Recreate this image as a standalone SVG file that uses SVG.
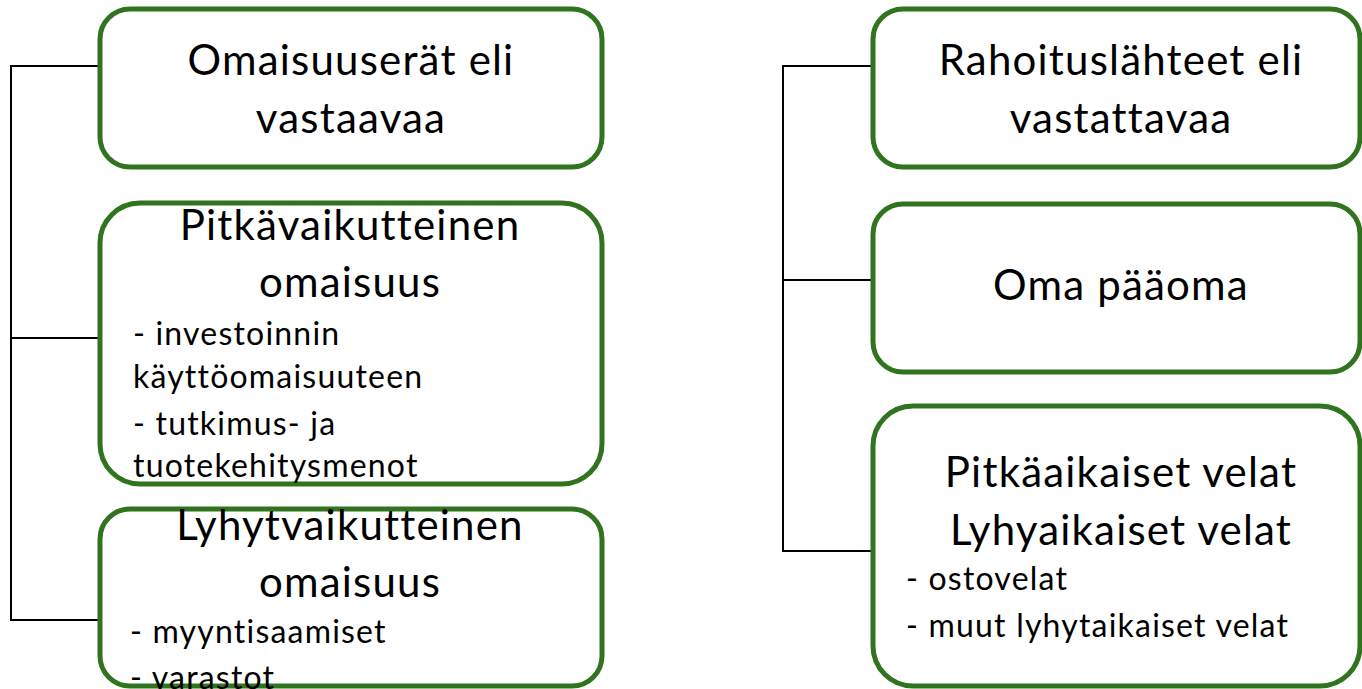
<svg xmlns="http://www.w3.org/2000/svg" width="1362" height="689" viewBox="0 0 1362 689">
<style>
.box{fill:#fff;stroke:#31741f;stroke-width:5}
.c{fill:none;stroke:#000;stroke-width:2}
.t{font-family:Lato,"Liberation Sans",sans-serif;font-size:42px;letter-spacing:1.2px;fill:#000;text-anchor:middle}
.s{font-family:Lato,"Liberation Sans",sans-serif;font-size:32px;letter-spacing:1.2px;fill:#000}
</style>
<rect width="1362" height="689" fill="#fff"/>
<g id="connectors">
<path class="c" d="M100 66H11V620H100M11 338H100"/>
<path class="c" d="M873 66H783V551H873M783 280H873"/>
</g>
<g id="n1"><rect class="box" x="100" y="9" width="502" height="158" rx="30"/>
<text class="t" x="351" y="75">Omaisuuserät eli</text><text class="t" x="351" y="133">vastaavaa</text></g>
<g id="n2"><rect class="box" x="100" y="203" width="502" height="281" rx="40"/>
<text class="t" x="350" y="240">Pitkävaikutteinen</text><text class="t" x="350" y="297">omaisuus</text>
<text class="s" x="133" y="345">- investoinnin</text><text class="s" x="133" y="388">käyttöomaisuuteen</text>
<text class="s" x="133" y="435">- tutkimus- ja</text><text class="s" x="133" y="477">tuotekehitysmenot</text></g>
<g id="n3"><rect class="box" x="100" y="509" width="502" height="177" rx="30"/>
<text class="t" x="350" y="540">Lyhytvaikutteinen</text><text class="t" x="350" y="597">omaisuus</text>
<text class="s" x="130" y="643">- myyntisaamiset</text><text class="s" x="130" y="689">- varastot</text></g>
<g id="n4"><rect class="box" x="873" y="9" width="487" height="158" rx="30"/>
<text class="t" x="1121" y="75">Rahoituslähteet eli</text><text class="t" x="1121" y="133">vastattavaa</text></g>
<g id="n5"><rect class="box" x="873" y="204" width="487" height="168" rx="30"/>
<text class="t" x="1121" y="300">Oma pääoma</text></g>
<g id="n6"><rect class="box" x="873" y="406" width="487" height="280" rx="40"/>
<text class="t" x="1121" y="487">Pitkäaikaiset velat</text><text class="t" x="1121" y="545">Lyhyaikaiset velat</text>
<text class="s" x="906" y="590">- ostovelat</text><text class="s" x="906" y="637">- muut lyhytaikaiset velat</text></g>
</svg>
